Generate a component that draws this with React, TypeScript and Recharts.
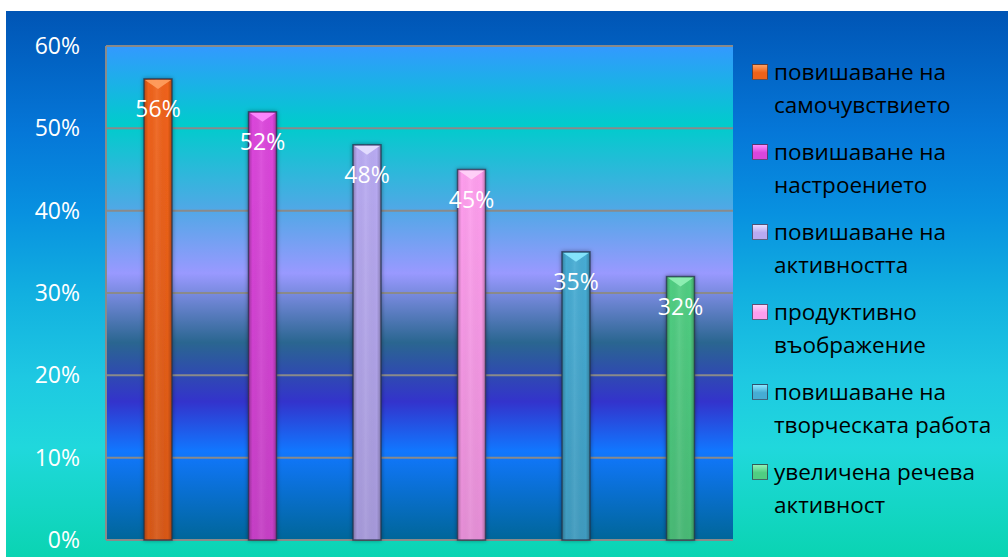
import React from 'react';
import { BarChart, Bar, XAxis, YAxis, CartesianGrid, Cell, LabelList } from 'recharts';

const categories = [
  'повишаване на самочувствието',
  'повишаване на настроението',
  'повишаване на активността',
  'продуктивно въображение',
  'повишаване на творческата работа',
  'увеличена речева активност',
];
const shares = [56, 52, 48, 45, 35, 32];
const yTicks = [0, 10, 20, 30, 40, 50, 60];

// bar face colours and the lighter bevel on top of each bar
const barColors = ['#f0621a', '#dc46dc', '#b8aaf2', '#ff9eee', '#46acd4', '#50ce82'];
const capColors = ['#ffa060', '#ff8cff', '#e6e0ff', '#ffd4f8', '#8ae8ff', '#92f2b6'];

const data = categories.map((name, i) => ({ name, value: shares[i] }));

const FONT = '"Open Sans", "Noto Sans", sans-serif';

function GlassBar(props: any) {
  const { x, y, width, height, index } = props;
  if (!height || height <= 0) return null;
  const cap = Math.min(10, height / 2);
  return (
    <g filter="url(#barShadow)">
      <rect x={x} y={y} width={width} height={height} fill={barColors[index]} />
      <rect x={x} y={y} width={width} height={height} fill="url(#barSheen)" />
      <rect x={x} y={y} width={width} height={height} fill="url(#barFade)" />
      <path
        d={`M${x + 1},${y + 1} L${x + width - 1},${y + 1} L${x + width / 2},${y + cap} Z`}
        fill={capColors[index]}
        opacity={0.9}
      />
      <rect x={x} y={y} width={width} height={height} fill="none" stroke="rgba(35,45,70,0.7)" strokeWidth={1.5} />
    </g>
  );
}

function BarValue(props: any) {
  const { x, y, width, value } = props;
  return (
    <text x={x + width / 2} y={y + 38} textAnchor="middle" fill="#ffffff" fontSize={23} fontFamily={FONT}>
      {`${value}%`}
    </text>
  );
}

function SideLegend() {
  return (
    <div style={{ position: 'absolute', left: 746, top: 44, width: 250, fontFamily: FONT, fontSize: 22.5, color: '#000' }}>
      {categories.map((name, i) => (
        <div key={name} style={{ display: 'flex', alignItems: 'flex-start', height: 80 }}>
          <span
            style={{
              width: 14,
              height: 14,
              marginTop: 9,
              marginRight: 6,
              flex: '0 0 auto',
              background: `linear-gradient(180deg, ${capColors[i]} 0%, ${barColors[i]} 55%)`,
              border: '1px solid rgba(35,45,70,0.7)',
            }}
          />
          <span style={{ lineHeight: '33px', width: 228 }}>{name}</span>
        </div>
      ))}
    </div>
  );
}

export default function App() {
  return (
    <div
      style={{
        position: 'absolute',
        left: 6,
        top: 11,
        width: 1002,
        height: 546,
        background:
          'linear-gradient(180deg, #0055b5 0%, #0577d8 22%, #0891e0 37%, #12b0e0 52%, #1ec8e2 67%, #20d8dc 80%, #0ad4b2 100%)',
      }}
    >
      <BarChart width={1002} height={546} data={data} margin={{ top: 35, right: 275, bottom: 17, left: 0 }}>
        <defs>
          <linearGradient id="plotBg" x1="0" y1="0" x2="0" y2="1">
            <stop offset="0" stopColor="#3399ff" />
            <stop offset="0.16" stopColor="#00cccc" />
            <stop offset="0.33" stopColor="#50a8e6" />
            <stop offset="0.46" stopColor="#9999ff" />
            <stop offset="0.6" stopColor="#2a6690" />
            <stop offset="0.72" stopColor="#3333cc" />
            <stop offset="0.82" stopColor="#1177ff" />
            <stop offset="1" stopColor="#006699" />
          </linearGradient>
          <linearGradient id="barSheen" x1="0" y1="0" x2="1" y2="0">
            <stop offset="0" stopColor="#000" stopOpacity={0.25} />
            <stop offset="0.15" stopColor="#000" stopOpacity={0} />
            <stop offset="0.45" stopColor="#fff" stopOpacity={0.08} />
            <stop offset="0.85" stopColor="#000" stopOpacity={0} />
            <stop offset="1" stopColor="#000" stopOpacity={0.25} />
          </linearGradient>
          <linearGradient id="barFade" x1="0" y1="0" x2="0" y2="1">
            <stop offset="0" stopColor="#000" stopOpacity={0} />
            <stop offset="1" stopColor="#000" stopOpacity={0.1} />
          </linearGradient>
          <filter id="barShadow" x="-50%" y="-10%" width="200%" height="120%">
            <feDropShadow dx="0" dy="0" stdDeviation="2" floodColor="#000" floodOpacity="0.4" />
          </filter>
        </defs>
        <CartesianGrid vertical={false} stroke="#8a8a8a" strokeWidth={2} fill="url(#plotBg)" fillOpacity={1} />
        <XAxis dataKey="name" hide />
        <YAxis
          width={100}
          domain={[0, 60]}
          ticks={yTicks}
          interval={0}
          tickFormatter={(v: number) => `${v}%`}
          tickLine={false}
          tickSize={0}
          tickMargin={26}
          axisLine={{ stroke: '#8a8a8a', strokeWidth: 2 }}
          tick={{ fill: '#ffffff', fontSize: 23, fontFamily: FONT }}
        />
        <Bar dataKey="value" barSize={28} shape={<GlassBar />} isAnimationActive={false}>
          {data.map((d, i) => (
            <Cell key={d.name} fill={barColors[i]} />
          ))}
          <LabelList dataKey="value" content={<BarValue />} />
        </Bar>
      </BarChart>
      <SideLegend />
    </div>
  );
}
